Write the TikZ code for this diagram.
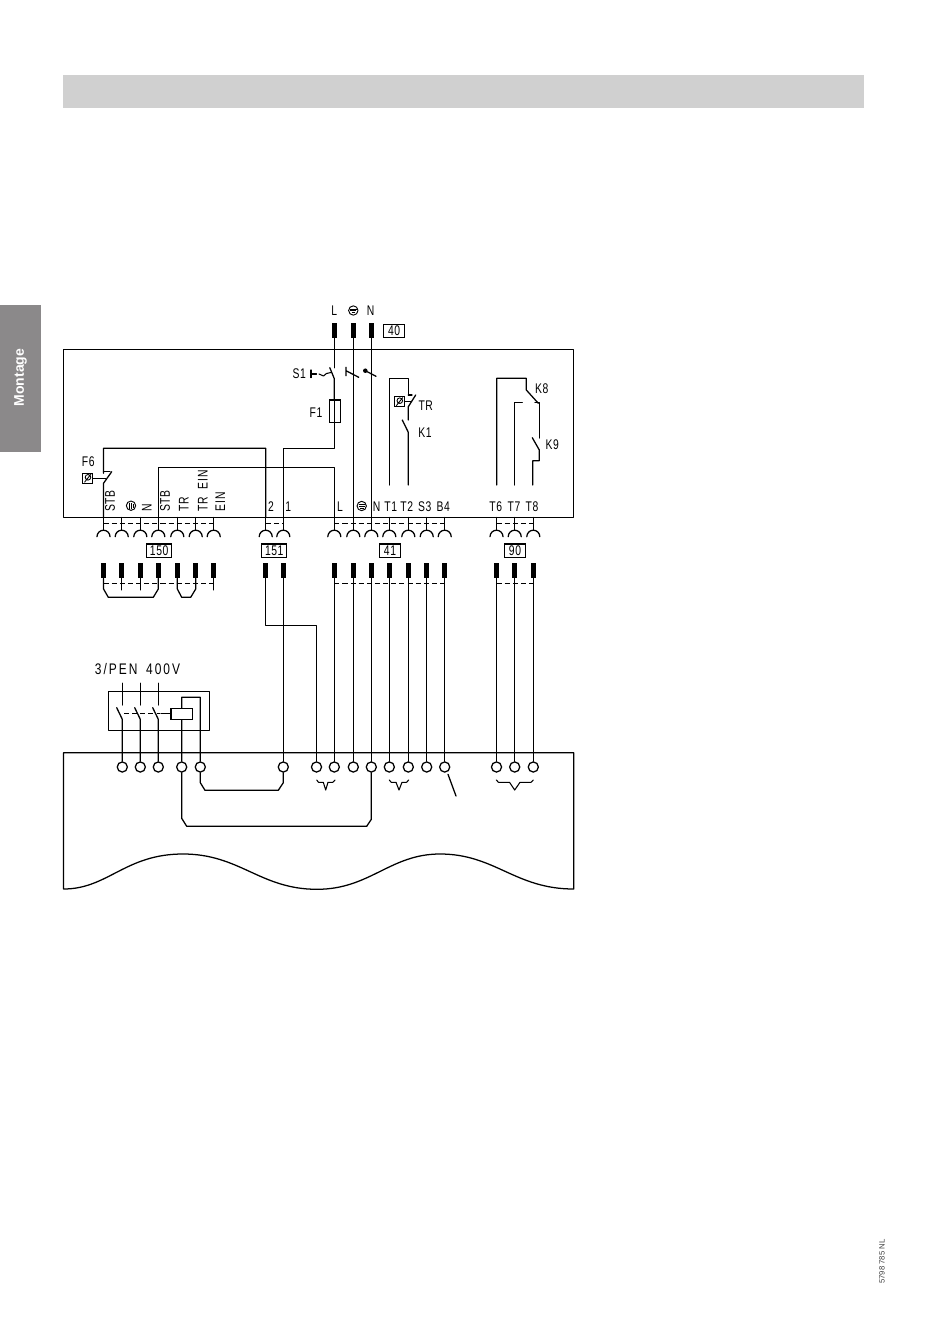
\documentclass[tikz,border=0pt]{standalone}
\usepackage{fontspec}
\setmainfont{Liberation Sans}
\newfontfamily\cadfont[FakeStretch=0.74,LetterSpace=4]{Liberation Sans}
\newfontfamily\cadwide[FakeStretch=0.78,LetterSpace=13]{Liberation Sans}
\definecolor{barcol}{HTML}{D0D0D0}
\definecolor{tabcol}{HTML}{8B898A}
\tikzset{
  wire/.style={line width=0.95pt,line cap=round,line join=round},
  thinwire/.style={line width=0.8pt,line cap=round,line join=round},
  linkdash/.style={line width=0.8pt,dash pattern=on 3.8pt off 2.3pt},
  pinbar/.style={fill=black,draw=none,minimum width=3.9pt,minimum height=11pt,inner sep=0pt},
  ringnode/.style={circle,draw=black,line width=0.95pt,fill=white,minimum size=7.6pt,inner sep=0pt},
  tagbox/.style={draw=black,line width=0.85pt,font=\cadfont\fontsize{10.5}{12}\selectfont,inner sep=0pt,minimum height=10pt,fill=white},
  lab/.style={font=\cadfont\fontsize{10.5}{12}\selectfont,inner sep=0pt},
  vlab/.style={lab,rotate=90,anchor=west},
  pics/socket/.style={code={\draw[wire] (-6.5,6.7) arc[start angle=180,end angle=0,radius=4.875pt];}},
  pics/earthmark/.style={code={
    \draw[line width=0.7pt] (0,0) circle[radius=3.5pt];
    \draw[line width=0.65pt] (-3.2,-1.4)--(3.2,-1.4) (-3,0.3)--(3,0.3) (-1.8,2)--(1.8,2);}},
  pics/thermomark/.style={code={
    \draw[line width=0.75pt] (-5.2,-5)rectangle(5.2,5);
    \draw[line width=0.65pt] (0.5,-1) circle[radius=2.1pt] (-3,4)--(3.5,-4.2);}}
}
\begin{document}
\begin{tikzpicture}[x=0.75pt,y=-0.75pt]
\useasboundingbox (0,0) rectangle (950,1344);
\fill[white] (0,0) rectangle (950,1344);
% page furniture
\node[fill=barcol,draw=none,inner sep=0pt,minimum width=600.75pt,minimum height=24.75pt] (titlebar) at (463.75,91.5) {};
\node[fill=tabcol,draw=none,inner sep=0pt,minimum width=30.75pt,minimum height=110.25pt] (sidetab) at (20.5,378.5) {};
\node[rotate=90,text=white,inner sep=0pt,font=\fontsize{10.5}{12}\selectfont\bfseries] (tablabel) at (20.5,377.5) {Montage};
\node[rotate=90,inner sep=0pt,text=black!75,font=\fontsize{5.8}{7}\selectfont] (docnum) at (882,1261.5) {5798 785 NL};
% housings
\draw[wire] (63.5,349.5) rectangle (573.7,517.5);
\coordinate (lowTL) at (63.5,752.7);
\coordinate (lowTR) at (573.7,752.7);
\draw[wire] (63.5,889) -- (lowTL) -- (lowTR) -- (573.7,889)
  .. controls (515,889) and (495,854) .. (440,854)
  .. controls (390,854) and (370,889.3) .. (317,889.3)
  .. controls (260,889.3) and (240,854) .. (183,854)
  .. controls (125,854) and (108,889) .. (63.5,889);
% terminals
\foreach \n/\x in {1/103.5,2/121.7,3/140.3,4/158.3,5/177.3,6/195.7,7/213.7,
  8/265.7,9/283.3,
  10/334.3,11/353.3,12/371.3,13/389.3,14/408.3,15/426.7,16/444.7,
  17/496.5,18/514.7,19/533.3}{
  \coordinate (rb\n) at (\x,517.5);
  \coordinate (a\n) at (\x,530);
  \pic at (\x,530) {socket};
  \node[pinbar] (p\n) at (\x,570.8) {};
  \coordinate (b\n) at (\x,583.3);
  \draw[wire] (rb\n) -- (a\n);
}
\foreach \n/\x in {t1/334.3,t2/353.3,t3/371.3}{
  \node[pinbar] (\n) at (\x,330.5) {};
}
% dashed links
\draw[linkdash] (103.5,523.3) -- (213.7,523.3);
\draw[linkdash] (265.7,523.3) -- (283.3,523.3);
\draw[linkdash] (334.3,523.3) -- (444.7,523.3);
\draw[linkdash] (496.5,523.3) -- (533.3,523.3);
\draw[linkdash] (103.5,583.3) -- (213.7,583.3);
\draw[linkdash] (334.3,583.3) -- (444.7,583.3);
\draw[linkdash] (496.5,583.3) -- (533.3,583.3);
% connector tags
\node[tagbox,minimum width=18.7pt] (tag150) at (159.2,550.7) {150};
\node[tagbox,minimum width=18.7pt] (tag151) at (274.2,550.7) {151};
\node[tagbox,minimum width=16pt] (tag41) at (390,550.7) {41};
\node[tagbox,minimum width=16pt] (tag90) at (515,550.7) {90};
\node[tagbox,minimum width=16pt] (tag40) at (394.2,331) {40};
% lower terminals
\foreach \n/\x in {1/122.3,2/140.3,3/158.3,4/181.7,5/200.3,6/283.3,7/316.5,8/334.3,9/353.3,10/371.3,
  11/389.3,12/408.3,13/426.7,14/444.7,15/496.5,16/514.7,17/533.3}{
  \node[ringnode] (c\n) at (\x,767) {};
}
% stubs below pins
\draw[wire] (p2.south) -- ++(0,11.5);
\draw[wire] (p3.south) -- ++(0,11.5);
\draw[wire] (p7.south) -- ++(0,11.5);
\draw[wire] (p1.south) -- ++(0,10.5) -- (108.3,597.3) -- (153.3,597.3) -- (158.3,589) -- (p4.south);
\draw[wire] (p5.south) -- ++(0,10.5) -- (181.7,597.3) -- (190.7,597.3) -- (195.7,589) -- (p6.south);
% field wiring
\draw[wire] (p8.south) -- (265.7,625.7) -| (c7.north);
\draw[wire] (p9.south) -- (c6.north);
\draw[wire] (p10.south) -- (c8.north);
\draw[wire] (p11.south) -- (c9.north);
\draw[wire] (p12.south) -- (c10.north);
\draw[wire] (p13.south) -- (c11.north);
\draw[wire] (p14.south) -- (c12.north);
\draw[wire] (p15.south) -- (c13.north);
\draw[wire] (p16.south) -- (c14.north);
\draw[wire] (p17.south) -- (c15.north);
\draw[wire] (p18.south) -- (c16.north);
\draw[wire] (p19.south) -- (c17.north);
% bridges in the boiler
\draw[wire] (c5.south) -- (200.3,782.7) -- (205,790.3) -- (278.3,790.3) -- (283.3,782.7) -- (c6.south);
\draw[wire] (c4.south) -- (181.7,818.3) -- (186.7,826.3) -- (366.7,826.3) -- (371.3,819.3) -- (c10.south);
% braces
\draw[thinwire] (316.7,780) -- (318.5,782.3) -- (323.3,782.3) -- (325.7,790) -- (328,782.3) -- (332.7,782.3) -- (335,780);
\draw[thinwire] (389.3,780) -- (391.2,782.3) -- (396,782.3) -- (399,790) -- (402,782.3) -- (406.5,782.3) -- (408.7,780);
\draw[thinwire] (496.3,780) -- (498.5,782.3) -- (509.5,782.3) -- (514.7,790) -- (520,782.3) -- (531,782.3) -- (533.3,780);
\draw[wire] (448,774.3) -- (456,796);
% contactor
\draw[wire] (108.3,691.3) rectangle (209.3,730.3);
\foreach \n/\x/\c in {1/122.3/c1,2/140.3/c2,3/158.3/c3}{
  \coordinate (sup\n) at (\x,683.3);
  \coordinate (sw\n) at (\x,719.3);
  \draw[wire] (sup\n) -- (\x,705);
  \draw[wire] (\x-5.6,707.7) -- (sw\n) -- (\c.north);
}
\draw[linkdash] (124,713.3) -- (160,713.3);
\draw[wire] (161,713.3) -- (171,713.3);
\node[draw=black,line width=0.95pt,minimum width=16.2pt,minimum height=8.2pt,inner sep=0pt] (coil) at (181.8,713.8) {};
\draw[wire] (c4.north) -- (coil.south);
\draw[wire] (coil.north) -- (181.7,697.3) -| (c5.north);
\node[inner sep=0pt,font=\cadwide\fontsize{11.5}{13}\selectfont] (supply) at (137.5,669) {3/PEN\hspace{2.5pt} 400V};
% main switch S1 and L wire
\coordinate (lfeed) at (334.3,367.7);
\draw[wire] (t1.south) -- (lfeed);
\draw[wire] (329.8,367.7) -- (334.3,378.7) -- (334.3,400);
\node[draw=black,line width=0.85pt,minimum width=8.2pt,minimum height=17pt,inner sep=0pt] (fuse) at (334.8,411.3) {};
\draw[thinwire] (334.3,400) -- (334.3,422.7);
\draw[wire] (334.3,422.7) -- (334.3,448.3) -- (283.3,448.3) -- (rb9);
\draw[wire] (rb10) -- (334.3,467.3) -- (158.3,467.3) -- (rb4);
\draw[thinwire] (311,370) -- (311,377.7) (311,374) -- (316.5,374);
\draw[thinwire] (319,374) -- (323.5,376) -- (326.5,373.5) -- (331,372.5);
\draw[wire] (t2.south) -- (rb11);
\draw[wire] (t3.south) -- (rb12);
\draw[wire] (346,367.3) -- (346,375.7) (346,370.7) -- (358.7,377.3);
\fill (365.3,370.7) circle[radius=1.7pt];
\draw[wire] (365.3,370.7) -- (376,376.3);
% F6 / STB
\draw[wire] (rb1) -- (103.5,483.3) -- (111.7,471.7) (103.5,473.3) -- (103.5,448.3) -- (265.7,448.3) -- (rb8);
\draw[wire] (103.5,471.7) -- (110,471.7);
\pic at (87.5,478.3) {thermomark};
\draw[thinwire] (92.7,478.2) -- (105.5,478.2);
% TR / K1
\draw[wire] (389.3,485) -- (389.3,378.3) -- (408.3,378.3) -- (408.3,395);
\draw[wire] (408.3,395) -- (412,395);
\draw[wire] (408.3,420) -- (408.3,406.7) -- (415.7,395);
\pic at (399.3,401.7) {thermomark};
\draw[thinwire] (404.3,401.7) -- (411,401.7);
\draw[wire] (402.3,420) -- (408.3,432.3) -- (408.3,485);
% K8 / K9
\draw[wire] (496.7,485) -- (496.7,378.3) -- (526.3,378.3) -- (526.3,390) -- (538.3,403.3);
\draw[wire] (514.3,485) -- (514.3,402.7) -- (522.3,402.7);
\draw[wire] (535,402.7) -- (539.3,402.7) -- (539.3,438);
\draw[wire] (532.3,437.7) -- (539.3,450) -- (539.3,460.7) -- (532.8,460.7) -- (532.8,485);
% labels
\node[lab] (lblL) at (334.3,310.5) {L};
\pic at (353.3,310.5) {earthmark};
\node[lab] (lblN) at (370.7,310.5) {N};
\node[lab] (lblS1) at (299.3,374) {S1};
\node[lab] (lblF1) at (316,412.3) {F1};
\node[lab] (lblTR) at (425.7,405.7) {TR};
\node[lab] (lblK1) at (425,432.3) {K1};
\node[lab] (lblK8) at (541.7,389) {K8};
\node[lab] (lblK9) at (552.3,445) {K9};
\node[lab] (lblF6) at (88.3,462) {F6};
\foreach \n/\x/\t in {l2/271/2,l1/288.3/1,l3/340/L,l4/376.7/N,l5/390.8/T1,l6/406.7/T2,l7/424.7/S3,l8/443.3/B4,l9/495.7/T6,l10/514/T7,l11/532/T8}{
  \node[lab] (\n) at (\x,507) {\t};
}
\pic at (361.7,506) {earthmark};
\foreach \n/\x/\t in {v1/110/STB,v3/146.7/N,v4/165/STB,v5/183.7/TR}{
  \node[vlab] (\n) at (\x,512) {\t};
}
\node[vlab] (v6) at (202.7,512) {TR\hspace{3pt} E\hspace{1pt}I\hspace{1pt}N};
\node[vlab] (v7) at (220.3,512) {E\hspace{1pt}I\hspace{1pt}N};
\pic[rotate=90] at (131,505.7) {earthmark};
\end{tikzpicture}
\end{document}
